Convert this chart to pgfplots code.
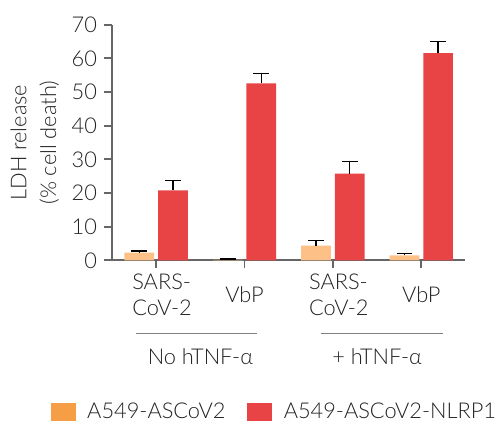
\documentclass[border=0pt]{standalone}
\usepackage{fontspec}
\setmainfont{Lato}[UprightFont={* Light}]
\usepackage{pgfplots}
\pgfplotsset{compat=1.18}

\definecolor{barorange}{HTML}{FDC086}
\definecolor{legorange}{HTML}{F59E45}
\definecolor{barred}{HTML}{E84446}
\definecolor{axisgray}{HTML}{666666}
\definecolor{txt}{HTML}{222222}

% bar data, error bars are drawn from the same numbers at the shifted positions
\begin{document}
\begin{tikzpicture}[font=\fontsize{11}{13}\selectfont, text=txt]
\begin{axis}[
    name=ax,
    scale only axis,
    width=178.5pt, height=119pt,
    xmin=-0.5, xmax=3.5,
    ymin=0, ymax=70,
    ytick={0,10,...,70},
    xtick={0,1,2,3},
    xticklabels={{\hspace*{6pt}SARS-\\\hspace*{6pt}CoV-2},VbP,{\hspace*{6pt}SARS-\\\hspace*{6pt}CoV-2},VbP},
    xticklabel style={align=left, anchor=center, yshift=-19.5pt+6pt},
    yticklabel style={font=\fontsize{11}{13}\selectfont},
    /pgf/number format/assume math mode=true,
    axis x line*=bottom, axis y line*=left,
    axis line style={axisgray, line width=1pt},
    tick style={axisgray, line width=1pt},
    tick align=outside,
    major tick length=4pt,
    ylabel={LDH release\\(\% cell death)},
    every axis y label/.style={at={(axis description cs:-0.218,0.5)}, rotate=90, anchor=center, align=center, font=\fontsize{11}{15}\selectfont},
    clip=false,
    legend style={at={(axis description cs:-0.174,-0.643)}, anchor=west, draw=none, fill=none, inner sep=0pt, legend columns=2,
        /tikz/every even column/.append style={column sep=9pt}},
    legend image code/.code={\fill[#1] (0pt,-4.25pt) rectangle (12pt,4.25pt); \path (16pt,0pt);},
    legend cell align=left,
]
\addlegendimage{legorange}
\addlegendimage{barred}
\addplot[ybar, bar width=15pt, bar shift=-8.5pt, fill=barorange, draw=none, forget plot]
  coordinates {(0,2.3) (1,0.2) (2,4.4) (3,1.5)};
\addplot[ybar, bar width=15pt, bar shift=8.5pt, fill=barred, draw=none, forget plot]
  coordinates {(0,20.8) (1,52.6) (2,25.8) (3,61.6)};
% error bars (upper only), at the bar centres
\addplot[draw=none, forget plot,
    error bars/y dir=plus, error bars/y explicit,
    error bars/error bar style={black, line width=0.75pt},
    error bars/error mark options={rotate=90, mark size=4pt, line width=0.75pt, black}]
  coordinates {(-0.19,2.3) +- (0,0.55) (0.81,0.2) +- (0,0.2) (1.81,4.4) +- (0,1.6) (2.81,1.5) +- (0,0.6)};
\addplot[draw=none, forget plot,
    error bars/y dir=plus, error bars/y explicit,
    error bars/error bar style={black, line width=0.75pt},
    error bars/error mark options={rotate=90, mark size=4pt, line width=0.75pt, black}]
  coordinates {(0.19,20.8) +- (0,3.0) (1.19,52.6) +- (0,2.9) (2.19,25.8) +- (0,3.65) (3.19,61.6) +- (0,3.35)};
\legend{A549-ASCoV2, A549-ASCoV2-NLRP1}

\draw[gray, line width=0.5pt] ([yshift=-37pt]axis cs:-0.23,0) -- ([yshift=-37pt]axis cs:1.14,0);
\draw[gray, line width=0.5pt] ([yshift=-37pt]axis cs:1.86,0) -- ([yshift=-37pt]axis cs:3.24,0);
\node at ([yshift=-48.5pt]axis cs:0.5,0) {No hTNF-α};
\node at ([yshift=-48.5pt]axis cs:2.5,0) {+ hTNF-α};
\end{axis}
\path[use as bounding box] ([shift={(-56.5pt,-89pt)}]ax.south west) rectangle ([shift={(15pt,12.5pt)}]ax.north east);
\end{tikzpicture}
\end{document}
